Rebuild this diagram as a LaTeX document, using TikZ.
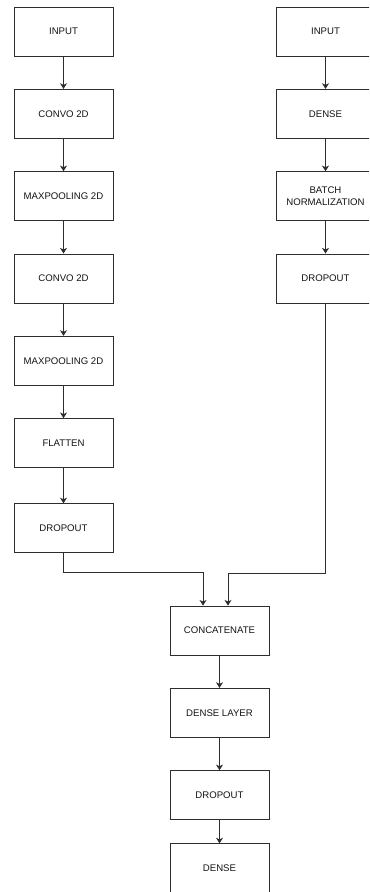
\documentclass[tikz,border=0pt]{standalone}
\usepackage{fontspec}
\setmainfont{Liberation Sans}
\usepackage{xcolor}
\usetikzlibrary{arrows.meta, positioning, calc}
\definecolor{lineGray}{RGB}{45, 45, 45}
\definecolor{textGray}{RGB}{20, 20, 20}
\tikzset{
  layernode/.style={
    rectangle,
    draw=lineGray, fill=white, line width=0.7pt,
    minimum width=2.97cm, minimum height=1.47cm,
    inner sep=1pt, align=center,
    text=textGray, font=\fontsize{8.2}{9.8}\selectfont
  },
  flowarrow/.style={
    -{Stealth[length=1.7mm,width=2.1mm,inset=0.5mm]},
    line width=0.7pt, color=lineGray
  }
}
\begin{document}
\begin{tikzpicture}[node distance=0.975cm]
  \clip (0,0) rectangle (11.07,-26.76);

  % image branch
  \node[layernode] (l1) at (1.905,-0.945) {INPUT};
  \node[layernode, below=of l1] (l2) {CONVO 2D};
  \node[layernode, below=of l2] (l3) {MAXPOOLING 2D};
  \node[layernode, below=of l3] (l4) {CONVO 2D};
  \node[layernode, below=of l4] (l5) {MAXPOOLING 2D};
  \node[layernode, below=of l5] (l6) {FLATTEN};
  \node[layernode, below=1.06cm of l6] (l7) {DROPOUT};

  % feature branch
  \node[layernode] (r1) at (9.765,-0.945) {INPUT};
  \node[layernode, below=of r1] (r2) {DENSE};
  \node[layernode, below=of r2] (r3) {BATCH\\NORMALIZATION};
  \node[layernode, below=of r3] (r4) {DROPOUT};

  % merged head
  \node[layernode] (cat) at (6.585,-18.915) {CONCATENATE};
  \node[layernode, below=of cat] (h2) {DENSE LAYER};
  \node[layernode, below=of h2] (h3) {DROPOUT};
  \node[layernode, below=0.7cm of h3] (h4) {DENSE};

  \draw[flowarrow] (l1) -- (l2);
  \draw[flowarrow] (l2) -- (l3);
  \draw[flowarrow] (l3) -- (l4);
  \draw[flowarrow] (l4) -- (l5);
  \draw[flowarrow] (l5) -- (l6);
  \draw[flowarrow] (l6) -- (l7);

  \draw[flowarrow] (r1) -- (r2);
  \draw[flowarrow] (r2) -- (r3);
  \draw[flowarrow] (r3) -- (r4);

  \coordinate (jl) at ($(cat.north)+(-0.495,0.99)$);
  \coordinate (jr) at ($(cat.north)+(0.255,0.96)$);
  \draw[flowarrow] (l7.south) |- (jl) -- (jl |- cat.north);
  \draw[flowarrow] (r4.south) |- (jr) -- (jr |- cat.north);

  \draw[flowarrow] (cat) -- (h2);
  \draw[flowarrow] (h2) -- (h3);
  \draw[flowarrow] (h3) -- (h4);
\end{tikzpicture}
\end{document}
